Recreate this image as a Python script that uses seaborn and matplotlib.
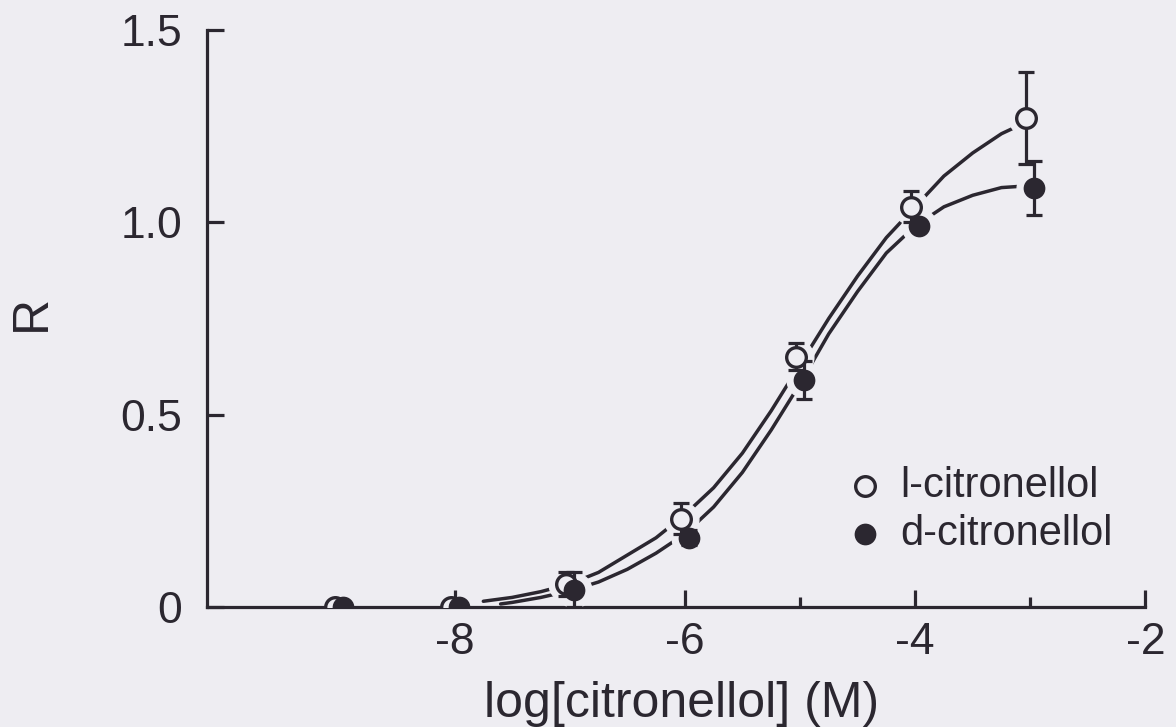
import numpy as np
import pandas as pd
import seaborn as sns
from matplotlib import pyplot as plt
from matplotlib.ticker import FixedLocator

# measured points (log M) and response R
log_conc = [-9, -8, -7, -6, -5, -4, -3]
r_l = [0.0, 0.0, 0.06, 0.23, 0.65, 1.04, 1.27]
err_l = [0.0, 0.0, 0.03, 0.04, 0.035, 0.04, 0.12]
r_d = [0.0, 0.0, 0.045, 0.18, 0.59, 0.99, 1.09]
err_d = [0.0, 0.0, 0.045, 0.02, 0.05, 0.01, 0.07]

# fitted curves
curve_x_l = [-7.75, -7.5, -7.25, -7.0, -6.75, -6.5, -6.25, -6.0, -5.75, -5.5,
             -5.25, -5.0, -4.75, -4.5, -4.25, -4.0, -3.75, -3.5, -3.25, -3.0]
curve_y_l = [0.015, 0.025, 0.04, 0.06, 0.09, 0.135, 0.18, 0.24, 0.31, 0.40,
             0.51, 0.63, 0.75, 0.86, 0.96, 1.04, 1.12, 1.18, 1.23, 1.265]
curve_x_d = [-7.6, -7.5, -7.25, -7.0, -6.75, -6.5, -6.25, -6.0, -5.75, -5.5,
             -5.25, -5.0, -4.75, -4.5, -4.25, -4.0, -3.75, -3.5, -3.25, -3.0]
curve_y_d = [0.008, 0.012, 0.025, 0.042, 0.065, 0.098, 0.14, 0.19, 0.26, 0.35,
             0.46, 0.58, 0.71, 0.82, 0.92, 0.99, 1.04, 1.07, 1.09, 1.095]

x_major = [-8, -6, -4, -2]
x_minor = [-9, -7, -5, -3]
y_ticks = [0, 0.5, 1.0, 1.5]
y_ticklabels = ['0', '0.5', '1.0', '1.5']

bg = '#eeedf2'
ink = '#2b2730'

sns.set_style('ticks')
plt.rcParams['font.family'] = ['Liberation Sans', 'DejaVu Sans']

fig = plt.figure(figsize=(11.76, 7.27), dpi=100, facecolor=bg)
ax = fig.add_axes([0.176, 0.165, 0.798, 0.794])
ax.set_facecolor(bg)

sns.lineplot(x=curve_x_l, y=curve_y_l, ax=ax, color=ink, lw=2.5, zorder=2)
sns.lineplot(x=curve_x_d, y=curve_y_d, ax=ax, color=ink, lw=2.5, zorder=2)

dodge = 0.035
xl = np.array(log_conc) - dodge
xd = np.array(log_conc) + dodge

# halos to open small gaps where curves meet the symbols (only where curves run)
ax.plot(xl[2:], r_l[2:], 'o', ms=25, color=bg, zorder=3)
ax.plot(xd[2:], r_d[2:], 'o', ms=25, color=bg, zorder=3)

ax.errorbar(xl, r_l, yerr=err_l, fmt='none', ecolor=ink, elinewidth=2.3,
            capsize=6, capthick=2.3, zorder=4)
ax.errorbar(xd, r_d, yerr=err_d, fmt='none', ecolor=ink, elinewidth=2.3,
            capsize=6, capthick=2.3, zorder=4)

sns.scatterplot(x=xl, y=r_l, ax=ax, s=200, facecolor=bg, edgecolor=ink,
                linewidth=2.4, zorder=5, label='l-citronellol')
sns.scatterplot(x=xd, y=r_d, ax=ax, s=200, color=ink, edgecolor=ink,
                linewidth=1.5, zorder=6, label='d-citronellol')

ax.set_xlim(-10.15, -2)
ax.set_ylim(0, 1.5)
ax.set_xticks(x_major)
ax.set_xticklabels([str(v) for v in x_major])
ax.xaxis.set_minor_locator(FixedLocator(x_minor))
ax.set_yticks(y_ticks)
ax.set_yticklabels(y_ticklabels)

for side in ['top', 'right']:
    ax.spines[side].set_visible(False)
for side in ['left', 'bottom']:
    ax.spines[side].set_color(ink)
    ax.spines[side].set_linewidth(2.3)

ax.tick_params(axis='both', which='major', direction='in', length=12, width=2.3,
               color=ink, labelsize=32, labelcolor=ink)
ax.tick_params(axis='x', which='major', pad=11)
ax.tick_params(axis='y', which='major', pad=18)
ax.tick_params(axis='x', which='minor', direction='in', length=7, width=2.3,
               color=ink)

ax.set_xlabel('log[citronellol] (M)', fontsize=36, color=ink)
ax.xaxis.label.set_va('baseline')
ax.xaxis.set_label_coords(0.506, -0.19)
ax.set_ylabel('R', fontsize=36, color=ink)
ax.yaxis.set_label_coords(-0.162, 0.51)

ax.legend(loc='upper left', bbox_to_anchor=(0.683, 0.245), frameon=False,
          fontsize=30, borderpad=0, borderaxespad=0, handlelength=0.8,
          handletextpad=0.45, labelspacing=0.2, labelcolor=ink, markerscale=1.0)

plt.savefig('out.png', dpi=100, facecolor=bg)
